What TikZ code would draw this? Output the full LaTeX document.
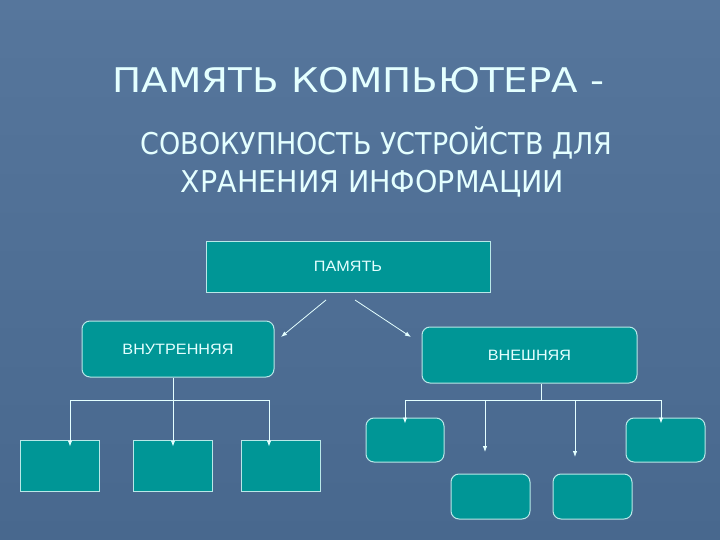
\documentclass[tikz,border=0pt]{standalone}
\usepackage{fontspec}
\setmainfont{DejaVu Sans}
\newfontfamily\headfont[FakeStretch=1.14]{DejaVu Sans}
\newfontfamily\subfonta[FakeStretch=0.9]{DejaVu Sans}
\newfontfamily\subfontb[FakeStretch=0.95]{DejaVu Sans}
\newfontfamily\boxfont[FakeStretch=1.08]{Liberation Sans}
\usetikzlibrary{positioning,arrows.meta}
\definecolor{slatetop}{RGB}{86,118,156}
\definecolor{slatebot}{RGB}{72,104,142}
\definecolor{tealbox}{RGB}{0,150,150}
\definecolor{rim}{RGB}{185,232,232}
\definecolor{ink}{RGB}{228,255,255}

\begin{document}
\begin{tikzpicture}[x=1pt,y=-1pt,
    box/.style={draw=rim, fill=tealbox, line width=1pt, text=ink,
      font=\boxfont\fontsize{15}{17}\selectfont, inner sep=0pt},
    rbox/.style={box, rounded corners=8pt},
    link/.style={draw=ink, line width=0.8pt},
    arr/.style={link, -{Latex[length=6pt,width=4.5pt]}},
    head/.style={text=ink, inner sep=0pt, anchor=base}]
  % background
  \shade[top color=slatetop, bottom color=slatebot] (0,0) rectangle (720,540);
  \useasboundingbox (0,0) rectangle (720,540);

  % title
  \node[head, font=\headfont\fontsize{34}{40}\selectfont] (title) at (358.5,93) {ПАМЯТЬ КОМПЬЮТЕРА -};
  \node[head, font=\subfonta\fontsize{30}{36}\selectfont] (line1) at (376.5,155) {СОВОКУПНОСТЬ УСТРОЙСТВ ДЛЯ};
  \node[head, font=\subfontb\fontsize{30}{36}\selectfont] (line2) at (372.5,192.5) {ХРАНЕНИЯ ИНФОРМАЦИИ};

  % main boxes
  \node[box, minimum width=284pt, minimum height=51pt] (mem) at (348,266.5) {ПАМЯТЬ};
  \node[rbox, minimum width=192pt, minimum height=56pt] (inner) at (178,349) {ВНУТРЕННЯЯ};
  \node[rbox, minimum width=215pt, minimum height=56pt] (outer) at (529.5,355) {ВНЕШНЯЯ};

  \coordinate (m1) at (326,300);
  \coordinate (m2) at (355,300);
  \coordinate (mi) at (281,337);
  \coordinate (mo) at (411,337);
  \draw[arr] (m1) -- (mi);
  \draw[arr] (m2) -- (mo);

  % internal memory
  \node[box, minimum width=79pt, minimum height=51pt] (i1) at (59.5,465.5) {};
  \node[box, minimum width=79pt, minimum height=51pt] (i2) at (172.5,465.5) {};
  \node[box, minimum width=79pt, minimum height=51pt] (i3) at (280.5,465.5) {};
  \coordinate (ij) at (173,400);
  \coordinate (il) at (70,400);
  \coordinate (ir) at (269,400);
  \draw[link] (inner.south -| ij) -- (ij);
  \draw[link] (il) -- (ir);
  \draw[arr] (il) -- ([yshift=-7pt]i1.north -| il);
  \draw[arr] (ij) -- ([yshift=-7pt]i2.north -| ij);
  \draw[arr] (ir) -- ([yshift=-7pt]i3.north -| ir);

  % external memory
  \node[rbox, minimum width=78pt, minimum height=44pt] (e1) at (405,440) {};
  \node[rbox, minimum width=79pt, minimum height=45pt] (e2) at (490.5,496.5) {};
  \node[rbox, minimum width=79pt, minimum height=45pt] (e3) at (592.5,496.5) {};
  \node[rbox, minimum width=79pt, minimum height=44pt] (e4) at (665.5,440) {};
  \coordinate (ej) at (541,400);
  \coordinate (el) at (405,400);
  \coordinate (er) at (661,400);
  \coordinate (ea) at (485,452);
  \coordinate (eb) at (575,457);
  \draw[link] (outer.south -| ej) -- (ej);
  \draw[link] (el) -- (er);
  \draw[arr] (el) -- ([yshift=-6pt]e1.north -| el);
  \draw[arr] (ea |- el) -- (ea);
  \draw[arr] (eb |- el) -- (eb);
  \draw[arr] (er) -- ([yshift=-6pt]e4.north -| er);
\end{tikzpicture}
\end{document}
